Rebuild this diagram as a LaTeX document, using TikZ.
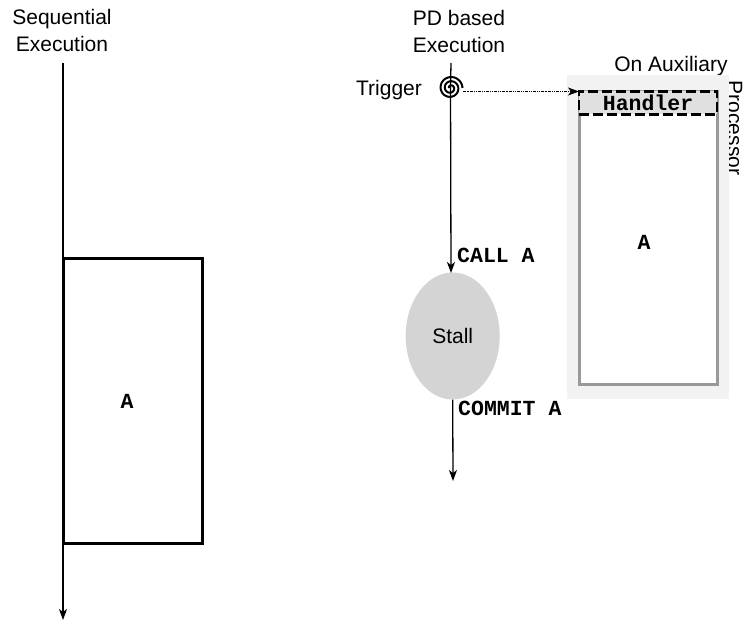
\documentclass[tikz,border=0pt]{standalone}
\usepackage{fontspec}
\setmainfont{Liberation Sans}
\setmonofont{Liberation Mono}
\usetikzlibrary{shapes.geometric,arrows.meta}
\tikzset{
  flow/.style={draw, line width=1.3pt, -{Stealth[length=11pt,width=8pt,inset=3pt]}},
  lbl/.style={font=\fontsize{21}{27}\selectfont, align=center, inner sep=0pt},
  code/.style={font=\fontsize{21.5}{24}\selectfont\ttfamily\bfseries, inner sep=0pt},
}
\begin{document}
\begin{tikzpicture}[x=1pt, y=-1pt]
  \useasboundingbox (0,0) rectangle (743,620);

  \node[lbl] (seqlabel) at (62,30) {Sequential\\Execution};
  \node[lbl] (pdlabel)  at (459,31) {PD based\\Execution};
  \node[lbl] (auxlabel) at (671,66) {On Auxiliary};
  \node[lbl, rotate=-90] (proclabel) at (735,128) {Processor};
  \node[lbl] (triggerlabel) at (389,90) {Trigger};

  % sequential side
  \coordinate (seqtop) at (63,63);
  \coordinate (seqend) at (63,620);
  \node[draw, line width=3pt, outer sep=0pt, minimum width=139pt, minimum height=285pt, inner sep=0pt,
        code] (seqA) at (132.5,400.5) {};
  \node[code] (seqAlabel) at (127,401) {A};
  \draw[line width=1.3pt] (seqtop) to (seqA.north west);
  \draw[flow] (seqA.south west) to (seqend);

  % auxiliary processor
  \node[fill=black!5, minimum width=162pt, minimum height=324pt, inner sep=0pt] (aux) at (648,237) {};
  \node[draw=black!40, line width=3pt, fill=white, minimum width=138pt, minimum height=292pt,
        inner sep=0pt] (auxA) at (648,238) {};
  \node[code] (auxAlabel) at (644,242) {A};
  \node[draw, dashed, dash pattern=on 10pt off 4pt, line width=2.6pt, fill=black!12, outer sep=0pt,
        minimum width=138pt, minimum height=23pt, inner sep=0pt, code] (handler) at (648,103) {Handler};

  % PD based side
  \coordinate (pdtop) at (451,63);
  \coordinate (pdend) at (453,481);
  \node[ellipse, fill=black!17, outer sep=0pt, minimum width=94pt, minimum height=127pt, inner sep=0pt,
        lbl] (stall) at (452.7,336) {Stall};
  \node[minimum size=24pt, inner sep=0pt, outer sep=0pt] (trigger) at (450.5,88) {};
  \draw[line width=1.3pt] (pdtop) to (trigger.center);
  \draw[flow] (trigger.center) to (451,273);
  \draw[flow] (stall.south) to (pdend);
  \draw[line width=2pt, domain=0:900, samples=90, smooth, variable=\t]
    plot ({450.5+(1.5+\t/900*10.5)*cos(\t+180)}, {88+(1.5+\t/900*10.5)*sin(\t+180)});
  \draw[flow, line width=0.9pt, densely dash dot dot] (trigger.east |- handler.north west) to (handler.north west);

  \node[code, anchor=west] (call)   at (457,255) {CALL A};
  \node[code, anchor=west] (commit) at (458,408) {COMMIT A};
\end{tikzpicture}
\end{document}
